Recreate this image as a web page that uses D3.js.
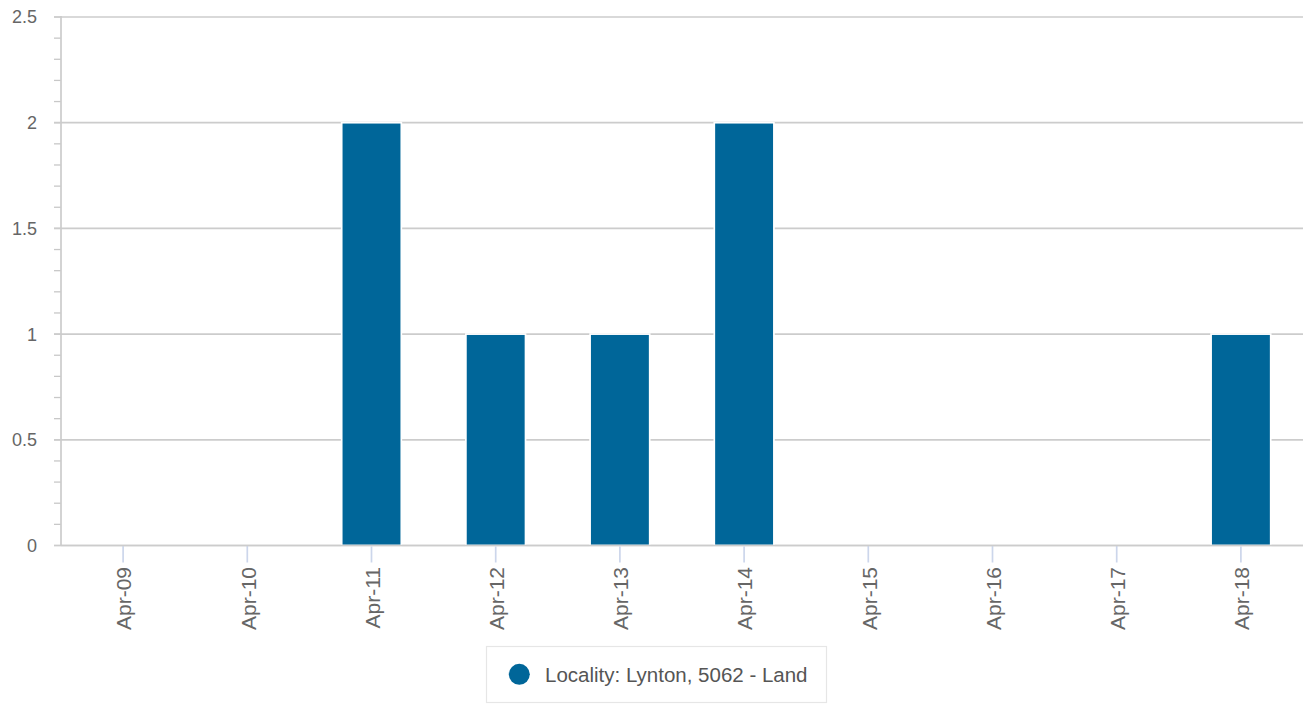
<!DOCTYPE html>
<html>
<head>
<meta charset="utf-8">
<script src="https://cdn.jsdelivr.net/npm/d3@7"></script>
<style>
  html, body { margin: 0; padding: 0; background: #fff; }
  svg { display: block; font-family: "Liberation Sans", Arial, Helvetica, sans-serif; }
</style>
</head>
<body>
<svg id="chart" width="1303" height="704"></svg>
<script>
const categories = ["Apr-09", "Apr-10", "Apr-11", "Apr-12", "Apr-13", "Apr-14", "Apr-15", "Apr-16", "Apr-17", "Apr-18"];
const values = [0, 0, 2, 1, 1, 2, 0, 0, 0, 1];
const yTicks = [0, 0.5, 1, 1.5, 2, 2.5];
const yTickLabels = ["0", "0.5", "1", "1.5", "2", "2.5"];
const seriesName = "Locality: Lynton, 5062 - Land";

(function () {
const svg = d3.select("#chart");
const pLeft = 61, pRight = 1303, pTop = 17, pBottom = 545.5;
const barColor = "#006699";
const textColor = "#666666";

const x = d3.scaleBand().domain(categories).range([pLeft, pRight]).paddingInner(0.52).paddingOuter(0.26);
const xTick = d3.scaleBand().domain(categories).range([pLeft, pRight]).padding(0);
const y = d3.scaleLinear().domain([0, 2.5]).range([pBottom, pTop]);

// minor ticks
const minor = d3.range(0, 2.5001, 0.1);
svg.append("g").selectAll("line").data(minor).join("line")
  .attr("x1", pLeft - 7).attr("x2", pLeft)
  .attr("y1", d => y(d)).attr("y2", d => y(d))
  .attr("stroke", "#c8c8c8").attr("stroke-width", 1.3);

// gridlines + major ticks
svg.append("g").selectAll("line").data(yTicks).join("line")
  .attr("x1", pLeft - 7).attr("x2", pRight)
  .attr("y1", d => y(d)).attr("y2", d => y(d))
  .attr("stroke", "#cccccc").attr("stroke-width", 1.7);

// y axis line
svg.append("line").attr("x1", pLeft).attr("x2", pLeft).attr("y1", y(2.5) - 1).attr("y2", pBottom)
  .attr("stroke", "#cccccc").attr("stroke-width", 1.7);

// y labels
svg.append("g").selectAll("text").data(yTicks).join("text")
  .attr("x", 37).attr("y", d => y(d)).attr("dy", "0.36em")
  .attr("text-anchor", "end").attr("font-size", 18).attr("fill", textColor)
  .text((d, i) => yTickLabels[i]);

// x ticks
svg.append("g").selectAll("line").data(categories).join("line")
  .attr("x1", d => xTick(d) + xTick.bandwidth() / 2).attr("x2", d => xTick(d) + xTick.bandwidth() / 2)
  .attr("y1", pBottom).attr("y2", pBottom + 17)
  .attr("stroke", "#ccd6eb").attr("stroke-width", 1.7);

// bars
svg.append("g").selectAll("rect").data(values.map((v, i) => ({ c: categories[i], v })).filter(d => d.v > 0)).join("rect")
  .attr("x", d => x(d.c)).attr("width", x.bandwidth())
  .attr("y", d => y(d.v)).attr("height", d => pBottom - y(d.v))
  .attr("fill", barColor).attr("stroke", "#ffffff").attr("stroke-width", 1.7);

// x axis line
svg.append("line").attr("x1", pLeft).attr("x2", pRight).attr("y1", pBottom).attr("y2", pBottom)
  .attr("stroke", "#cccccc").attr("stroke-width", 1.7);

// x labels
svg.append("g").selectAll("text").data(categories).join("text")
  .attr("transform", d => `translate(${xTick(d) + xTick.bandwidth() / 2 + 1},567) rotate(-90)`)
  .attr("dy", "0.35em").attr("text-anchor", "end")
  .attr("font-size", 21).attr("fill", textColor)
  .text(d => d);

// legend
const lg = svg.append("g");
lg.append("rect").attr("x", 486.5).attr("y", 646.5).attr("width", 340).attr("height", 56)
  .attr("fill", "#ffffff").attr("stroke", "#e6e6e6").attr("stroke-width", 1.2);
lg.append("circle").attr("cx", 519.3).attr("cy", 674.3).attr("r", 10.5).attr("fill", barColor);
lg.append("text").attr("x", 545).attr("y", 681.5).attr("font-size", 20.5).attr("fill", "#555555")
  .text(seriesName);
})();
</script>
</body>
</html>
